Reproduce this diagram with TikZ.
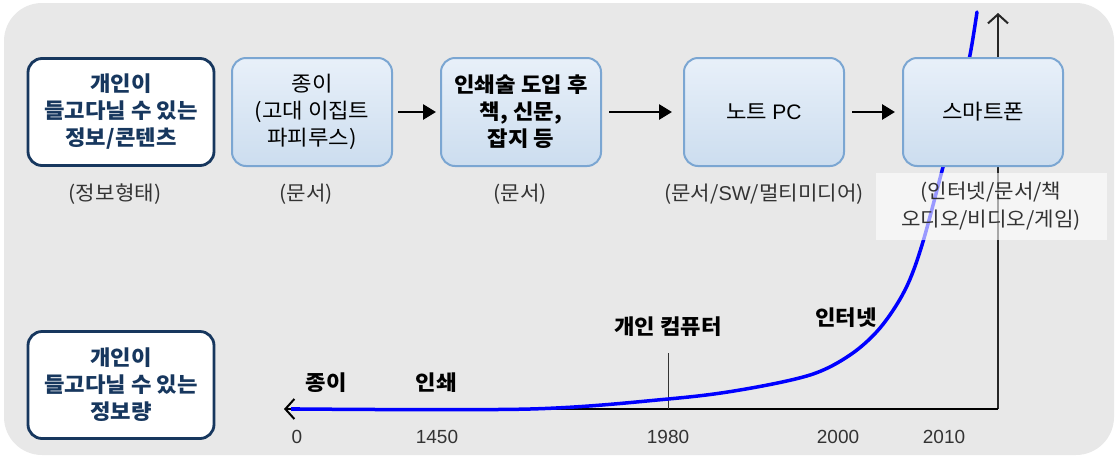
\documentclass[tikz,border=0pt]{standalone}
\usepackage{fontspec}
\setmainfont{Noto Sans CJK KR}[FakeStretch=1.06]
\newfontfamily\lat{Liberation Sans}
\usetikzlibrary{arrows.meta}
\definecolor{bgc}{HTML}{E8E8E8}
\definecolor{navy}{HTML}{17375E}
\definecolor{bbord}{HTML}{7BA6D2}
\definecolor{btop}{HTML}{E8F0F9}
\definecolor{bbot}{HTML}{CCDDEF}
\definecolor{txt}{HTML}{333333}
\tikzset{
  navybox/.style={draw=navy, line width=2.8pt, fill=white, rounded corners=14pt,
    minimum width=186pt, minimum height=107pt, align=center, text=navy,
    font=\fontsize{21}{27}\selectfont\bfseries},
  bluebox/.style={draw=bbord, line width=2pt, top color=btop, bottom color=bbot,
    rounded corners=14pt, minimum width=160pt, minimum height=108pt, align=center,
    font=\fontsize{21}{27}\selectfont},
  flowarrow/.style={-{Triangle[length=13pt,width=15pt]}, line width=2.8pt},
  axistip/.style={-{Straight Barb[length=9pt,width=20pt,line width=2pt]}},
  sublabel/.style={text=txt, font=\fontsize{20}{28}\selectfont, align=center},
  chartlabel/.style={font=\fontsize{21}{24}\selectfont\bfseries},
  yearlabel/.style={text=txt, font=\lat\fontsize{19}{22}\selectfont},
}
\begin{document}
\begin{tikzpicture}[x=1pt,y=-1pt]
\useasboundingbox (0,0) rectangle (1116,456);
\fill[bgc, rounded corners=38pt] (4,3) rectangle (1114,455);

% axes
\coordinate (orig) at (998,409);
\coordinate (ytop) at (998,13);
\coordinate (xend) at (284,409);
\draw[line width=2.2pt, black!85, axistip] (orig) -- (ytop);
\draw[line width=2.8pt, black, axistip] (orig) -- (xend);

% 1980 tick
\coordinate (t80a) at (668,409);
\coordinate (t80b) at (668,353);
\draw[line width=1pt, black!80] (t80a) -- (t80b);

% growth curve
\draw[blue, line width=3.5pt, line cap=round]
  plot[smooth, tension=0.55] coordinates {(300,409) (530,409) (668,399) (740,390) (810,375) (850,355) (880,328) (905,290) (922,245) (943,167) (958,110) (970,55) (977,12)};
\draw[blue, line width=3.5pt] (300,409) -- (291,409);

% boxes
\node[navybox] (info) at (121,112) {개인이\\들고다닐 수 있는\\정보/콘텐츠};
\node[bluebox] (paper) at (312,112) {종이\\(고대 이집트\\파피루스)};
\node[bluebox, font=\fontsize{21}{27}\selectfont\bfseries] (print) at (521,112) {인쇄술 도입 후\\책, 신문,\\잡지 등};
\node[bluebox] (pc) at (764,112) {노트 {\lat PC}};
\node[bluebox] (phone) at (983,112) {스마트폰};

\draw[flowarrow, shorten <=5pt, shorten >=4pt] (paper) -- (print);
\draw[flowarrow, shorten <=7pt, shorten >=11pt] (print) -- (pc);
\draw[flowarrow, shorten <=7pt, shorten >=7pt] (pc) -- (phone);

% sub labels
\node[sublabel] (l1) at (115,194) {(정보형태)};
\node[sublabel] (l2) at (306,194) {(문서)};
\node[sublabel] (l3) at (520,194) {(문서)};
\node[sublabel] (l4) at (764,194) {(문서/{\lat SW}/멀티미디어)};
\node[sublabel, fill=white, fill opacity=0.6, text opacity=1, minimum width=231pt, minimum height=67pt, inner sep=0pt] (l5) at (991,206) {(인터넷/문서/책\\오디오/비디오/게임)};

% bottom box
\node[navybox] (amount) at (121,385) {개인이\\들고다닐 수 있는\\정보량};

% chart labels
\node[chartlabel] (c1) at (326,383) {종이};
\node[chartlabel] (c2) at (436,383) {인쇄};
\node[chartlabel] (c3) at (668,327) {개인 컴퓨터};
\node[chartlabel] (c4) at (846,318) {인터넷};

% years
\node[yearlabel] (y0) at (297,437) {0};
\node[yearlabel] (y1) at (437,437) {1450};
\node[yearlabel] (y2) at (668,437) {1980};
\node[yearlabel] (y3) at (838,437) {2000};
\node[yearlabel] (y4) at (944,437) {2010};
\end{tikzpicture}
\end{document}
